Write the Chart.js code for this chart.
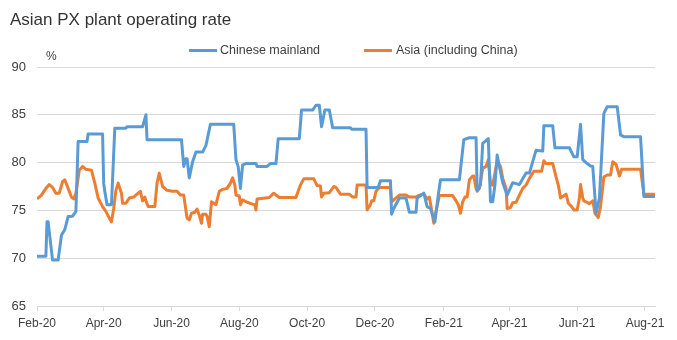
<!DOCTYPE html>
<html>
<head>
<meta charset="utf-8">
<script src="https://cdn.jsdelivr.net/npm/chart.js@4.4.1/dist/chart.umd.min.js"></script>
<style>
  html, body { margin: 0; padding: 0; background: #ffffff; }
  #wrap { width: 677px; height: 340px; }
</style>
</head>
<body>
<div id="wrap"><canvas id="c" width="677" height="340"></canvas></div>
<script>
// x values are days counted from 1 Feb 2020
const cnDays = [0, 8, 9, 10, 14, 19, 22, 25, 28, 32, 35, 37, 45, 46, 59, 60, 61, 63, 67, 70, 80, 81, 95, 98, 99,
  130, 132, 134, 135, 137, 140, 143, 149, 152, 156, 177, 179, 181, 183, 185, 188, 197, 198, 207, 210, 215, 217,
  236, 238, 248, 251, 254, 256, 259, 263, 266, 282, 283, 296, 297, 307, 309, 318, 319, 321, 326, 332, 335, 341,
  342, 348, 351, 354, 358, 361, 363, 380, 384, 389, 395, 396, 399, 401, 406, 408, 410, 412, 414, 416, 419, 423,
  428, 434, 440, 443, 449, 455, 456, 464, 466, 479, 483, 486, 489, 491, 495, 498, 500, 503, 506, 510, 513, 522,
  525, 528, 543, 546, 556];
const cnRate = [70.2, 70.2, 73.8, 73.8, 69.8, 69.8, 72.4, 73.0, 74.35, 74.4, 74.9, 82.2, 82.2, 83.0, 83.0, 77.8, 77.0, 75.6, 75.6, 83.6, 83.6, 83.75, 83.75, 85.0, 82.4,
  82.4, 79.6, 80.4, 80.4, 78.4, 80.1, 81.1, 81.1, 81.8, 84.0, 84.0, 80.3, 79.6, 77.3, 79.75, 79.9, 79.9, 79.6, 79.6, 79.9, 79.9, 82.5,
  82.5, 85.5, 85.5, 86.0, 86.0, 83.75, 85.5, 85.5, 83.65, 83.65, 83.5, 83.5, 77.4, 77.4, 78.1, 78.1, 74.6, 75.2, 76.3, 76.3, 74.8, 74.8,
  76.3, 76.8, 75.4, 75.2, 73.8, 76.6, 78.2, 78.2, 82.4, 82.6, 82.6, 77.1, 77.65, 82.0, 82.5, 75.9, 75.9, 77.65, 80.8, 79.6, 77.9, 76.6,
  77.9, 77.7, 78.9, 78.9, 81.3, 81.2, 83.85, 83.85, 81.55, 81.55, 80.6, 80.6, 84.0, 80.3, 79.9, 79.65, 79.6, 74.7, 76.3, 85.15, 85.85, 85.85,
  82.9, 82.7, 82.7, 76.45, 76.45];

const asiaDays = [0, 4, 8, 11, 14, 17, 20, 23, 25, 28, 31, 33, 35, 38, 41, 44, 49, 52, 55, 59, 62, 65, 67, 69, 71, 73,
  76, 77, 80, 83, 87, 90, 93, 95, 97, 98, 100, 106, 108, 110, 113, 117, 122, 126, 129, 132, 134, 135, 137, 139,
  142, 144, 146, 148, 149, 152, 153, 155, 157, 159, 161, 164, 167, 171, 174, 176, 178, 179, 182, 183, 185, 189,
  194, 196, 197, 198, 209, 213, 218, 233, 234, 237, 240, 249, 252, 255, 256, 258, 263, 267, 269, 273, 281, 284,
  287, 288, 296, 297, 300, 301, 303, 305, 308, 318, 319, 323, 326, 332, 335, 341, 344, 348, 351, 353, 355, 357,
  359, 362, 374, 377, 379, 381, 383, 385, 387, 389, 392, 393, 395, 396, 398, 401, 404, 406, 408, 410, 412, 414,
  417, 419, 422, 423, 426, 428, 431, 434, 437, 440, 443, 447, 454, 456, 458, 464, 467, 469, 471, 473, 476, 478,
  481, 483, 486, 488, 489, 491, 492, 495, 497, 500, 502, 505, 507, 510, 513, 516, 518, 521, 524, 526, 543, 546, 556];
const asiaRate = [76.2, 76.6, 77.3, 77.7, 77.4, 76.8, 76.8, 78.0, 78.2, 77.3, 76.4, 76.2, 76.8, 79.2, 79.6, 79.3, 79.2, 77.85, 76.3, 75.4, 74.9, 74.2, 73.8, 75.2, 77.1, 77.85,
  76.8, 75.75, 75.75, 76.3, 76.4, 76.7, 77.0, 76.0, 76.4, 76.0, 75.4, 75.4, 77.85, 78.9, 77.5, 77.1, 77.0, 77.0, 76.6, 76.6, 75.0, 74.2, 74.0, 74.7,
  74.8, 75.15, 74.5, 73.65, 74.6, 74.6, 74.4, 73.3, 75.9, 75.75, 75.6, 77.0, 77.2, 77.3, 77.85, 78.4, 77.65, 76.6, 76.5, 75.6, 76.1, 75.85,
  75.65, 75.6, 75.05, 76.2, 76.35, 76.8, 76.35, 76.35, 76.7, 77.65, 78.3, 78.3, 77.6, 77.55, 76.4, 76.8, 76.85, 77.5, 77.4, 76.7, 76.7, 76.4,
  76.4, 77.65, 77.65, 75.05, 75.6, 76.0, 76.0, 77.0, 77.4, 77.4, 75.9, 76.3, 76.6, 76.6, 76.4, 76.4, 76.6, 76.7, 76.2, 76.4, 75.05, 73.65,
  74.9, 76.55, 76.55, 76.0, 75.6, 74.7, 75.9, 76.4, 76.4, 78.2, 78.6, 78.6, 77.3, 77.0, 77.3, 79.4, 79.6, 80.3, 77.85, 77.65, 78.9, 80.1,
  79.6, 78.35, 77.3, 75.2, 75.3, 75.8, 75.85, 76.6, 77.3, 77.65, 78.35, 79.1, 79.1, 80.2, 79.9, 79.9, 78.5, 77.65, 76.3, 76.45, 76.7, 75.75,
  75.4, 75.05, 75.05, 76.3, 77.7, 76.3, 76.0, 75.85, 75.7, 76.0, 74.7, 74.25, 75.4, 78.5, 78.7, 78.7, 80.1, 79.8, 78.6, 79.3, 79.3, 76.7, 76.7];

const tickDays = [0, 60, 121, 182, 243, 304, 366, 425, 486, 547];
const tickLabels = ['Feb-20', 'Apr-20', 'Jun-20', 'Aug-20', 'Oct-20', 'Dec-20', 'Feb-21', 'Apr-21', 'Jun-21', 'Aug-21'];

const seriesNames = ['Chinese mainland', 'Asia (including China)'];
const BLUE = '#5B9BD5';
const ORANGE = '#ED7D31';
const TEXT = '#404040';
const FONT = "'Liberation Sans', Arial, sans-serif";

const toPoints = (xs, ys) => xs.map((x, i) => ({ x: x, y: ys[i] }));

// Title, unit label and the legend row above the plot
const decorations = {
  id: 'decorations',
  afterDraw(chart) {
    const ctx = chart.ctx;
    ctx.save();
    ctx.fillStyle = '#333333';
    ctx.font = '17px ' + FONT;
    ctx.textBaseline = 'alphabetic';
    ctx.textAlign = 'left';
    ctx.fillText('Asian PX plant operating rate', 10, 25);

    ctx.fillStyle = TEXT;
    ctx.font = '12px ' + FONT;
    ctx.textBaseline = 'middle';
    ctx.fillText('%', 46, 57);

    const items = [
      { x0: 189, x1: 217, tx: 220 },
      { x0: 364, x1: 392, tx: 396 }
    ];
    ctx.font = '12.5px ' + FONT;
    chart.data.datasets.forEach((ds, i) => {
      const it = items[i];
      ctx.strokeStyle = ds.borderColor;
      ctx.lineWidth = 3;
      ctx.beginPath();
      ctx.moveTo(it.x0, 50.5);
      ctx.lineTo(it.x1, 50.5);
      ctx.stroke();
      ctx.fillStyle = TEXT;
      ctx.fillText(ds.label, it.tx, 50.5);
    });
    ctx.restore();
  }
};

new Chart(document.getElementById('c'), {
  type: 'line',
  data: {
    datasets: [
      {
        label: seriesNames[0],
        data: toPoints(cnDays, cnRate),
        borderColor: BLUE,
        backgroundColor: BLUE,
        borderWidth: 3,
        pointRadius: 0,
        tension: 0,
        borderJoinStyle: 'round'
      },
      {
        label: seriesNames[1],
        data: toPoints(asiaDays, asiaRate),
        borderColor: ORANGE,
        backgroundColor: ORANGE,
        borderWidth: 3,
        pointRadius: 0,
        tension: 0,
        borderJoinStyle: 'round'
      }
    ]
  },
  options: {
    responsive: false,
    animation: false,
    layout: { padding: { top: 67, right: 22, bottom: 0, left: 0 } },
    plugins: {
      legend: { display: false },
      title: { display: false },
      tooltip: { enabled: false }
    },
    scales: {
      x: {
        type: 'linear',
        min: 0,
        max: 556,
        afterFit(scale) { scale.height = 34; },
        afterBuildTicks(scale) { scale.ticks = tickDays.map(v => ({ value: v })); },
        ticks: {
          autoSkip: false,
          maxRotation: 0,
          padding: 5,
          color: TEXT,
          font: { family: FONT, size: 12 },
          callback(value) {
            const i = tickDays.indexOf(value);
            return i >= 0 ? tickLabels[i] : '';
          }
        },
        grid: { drawOnChartArea: false, drawTicks: true, tickLength: 5, color: '#d9d9d9' },
        border: { display: true, color: '#d9d9d9' }
      },
      y: {
        min: 65,
        max: 90,
        afterFit(scale) { scale.width = 37; },
        ticks: {
          stepSize: 5,
          padding: 11,
          color: TEXT,
          font: { family: FONT, size: 13 }
        },
        grid: { color: '#d9d9d9', drawTicks: false },
        border: { display: false }
      }
    }
  },
  plugins: [decorations]
});
</script>
</body>
</html>
